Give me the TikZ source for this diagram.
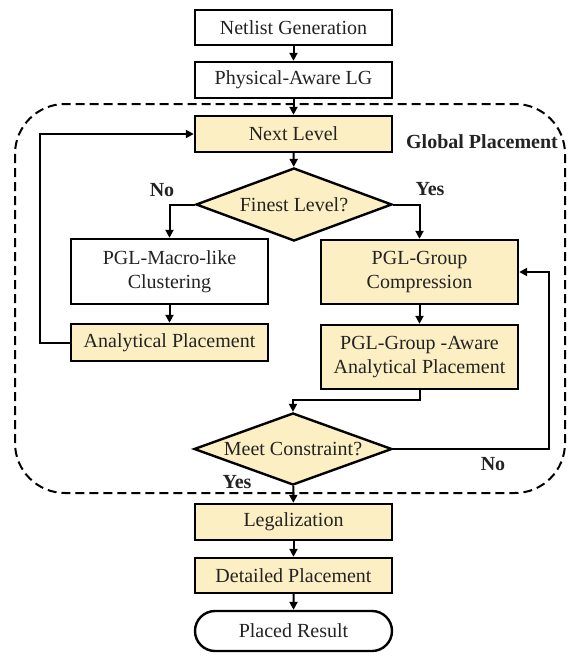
\documentclass[tikz,border=0pt]{standalone}
\usepackage{fontspec}
\setmainfont{Liberation Serif}
\newfontfamily\timesf{Liberation Serif}
\usetikzlibrary{shapes.geometric,shapes.misc,arrows.meta}
\definecolor{boxfill}{RGB}{253,239,196}
\definecolor{txt}{RGB}{35,35,35}
\tikzset{
  base/.style={draw=black, line width=2.4pt, text=txt, align=center, inner sep=0pt,
    font=\timesf\fontsize{20}{24}\selectfont},
  wbox/.style={base, rectangle, fill=white, minimum width=197pt},
  ybox/.style={base, rectangle, fill=boxfill, minimum width=197pt},
  dia/.style={base, diamond, fill=boxfill, aspect=2.64, minimum width=196pt, minimum height=73pt},
  term/.style={base, rounded rectangle, fill=white, minimum width=197pt, minimum height=40pt},
  arr/.style={line width=2pt, -{Triangle[length=8pt,width=8pt]}},
  lbl/.style={text=txt, font=\timesf\fontsize{20}{24}\selectfont\bfseries, inner sep=0pt}
}
\begin{document}
\begin{tikzpicture}[x=1pt,y=-1pt]
\useasboundingbox (0,0) rectangle (568,656);
\draw[line width=2pt, dash pattern=on 9pt off 5pt, rounded corners=50pt] (15,104) rectangle (565,493);
\node[lbl] (gp) at (482,142) {Global Placement};

\node[wbox, minimum height=35pt] (net) at (293.5,27.5) {Netlist Generation};
\node[wbox, minimum height=36pt] (phys) at (293.5,80) {Physical-Aware LG};
\node[ybox, minimum height=36pt] (next) at (293.5,134) {Next Level};
\node[dia] (finest) at (294,204.5) {Finest Level?};
\node[wbox, minimum height=65pt] (clust) at (169.5,271.5) {PGL-Macro-like\\Clustering};
\node[ybox, minimum height=37pt] (anal) at (169.5,342.5) {Analytical Placement};
\node[ybox, minimum height=64pt] (comp) at (419.5,272) {PGL-Group\\Compression};
\node[ybox, minimum height=64pt] (aware) at (419.5,357) {PGL-Group -Aware\\Analytical Placement};
\node[dia, minimum width=198pt, minimum height=72pt] (meet) at (293,449) {Meet Constraint?};
\node[ybox, minimum height=36pt] (legal) at (293.5,522) {Legalization};
\node[ybox, minimum height=35pt] (detail) at (293.5,575.5) {Detailed Placement};
\node[term] (result) at (293.5,631) {Placed Result};

\node[lbl] (no1) at (162,190) {No};
\node[lbl] (yes1) at (430,189) {Yes};
\node[lbl] (no2) at (493,464) {No};
\node[lbl] (yes2) at (237,482) {Yes};

\draw[arr] (net) -- (phys);
\draw[arr] (phys) -- (next);
\draw[arr] (next) -- (finest);
\draw[arr] (finest.west) -| (clust.north);
\draw[arr] (finest.east) -| (comp.north);
\draw[arr] (clust) -- (anal);
\draw[arr] (anal.west) -- ++(-30,0) |- (next.west);
\draw[arr] (comp) -- (aware);
\draw[arr] (aware.south) -- ++(0,10) -| (meet.north);
\draw[arr] (meet.east) -- ++(156,0) |- (comp.east);
\draw[arr] (meet) -- (legal);
\draw[arr] (legal) -- (detail);
\draw[arr] (detail) -- (result);
\end{tikzpicture}
\end{document}
